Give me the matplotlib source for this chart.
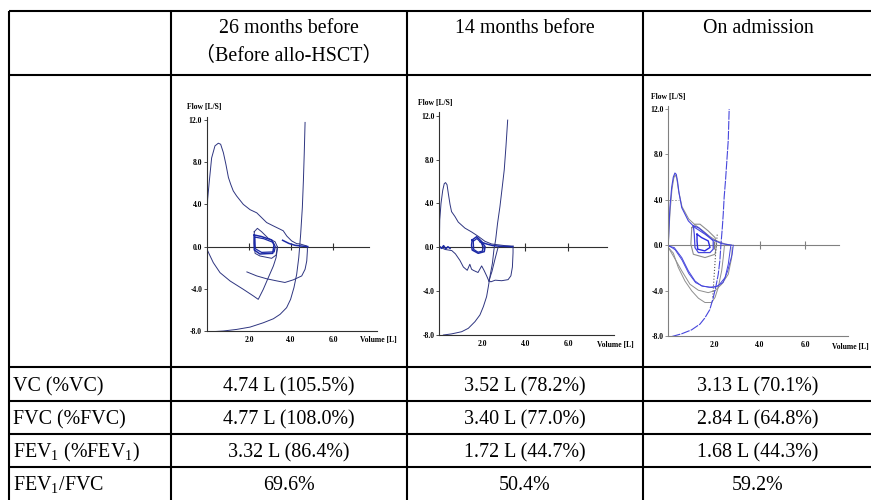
import matplotlib
matplotlib.use('Agg')
import matplotlib.pyplot as plt

plt.rcParams['font.family'] = ['Liberation Serif', 'Noto Sans CJK JP']
plt.rcParams['mathtext.fontset'] = 'custom'
plt.rcParams['mathtext.rm'] = 'Liberation Serif'
plt.rcParams['mathtext.it'] = 'Liberation Serif:italic'
plt.rcParams['mathtext.bf'] = 'Liberation Serif:bold'

# ---- table text ----
header_top = ['26 months before', '14 months before', 'On admission']
header_sub = ['（Before allo-HSCT）', '', '']
row_labels = ['VC (%VC)', 'FVC (%FVC)', r'FEV$_1$ (%FEV$_1$)', r'FEV$_1$/FVC']
vc_vals = ['4.74 L (105.5%)', '3.52 L (78.2%)', '3.13 L (70.1%)']
fvc_vals = ['4.77 L (108.0%)', '3.40 L (77.0%)', '2.84 L (64.8%)']
fev1_vals = ['3.32 L (86.4%)', '1.72 L (44.7%)', '1.68 L (44.3%)']
ratio_vals = ['69.6%', '50.4%', '59.2%']

y_ticks = [-8, -4, 0, 4, 8, 12]
x_ticks = [2, 4, 6]

# ---- panel 1: 26 months before ----
p1_exp_x = [0.0, 0.0, 0.03, 0.11, 0.22, 0.38, 0.54, 0.65, 0.78, 0.90, 1.02, 1.13, 1.25, 1.41,
            1.73, 2.05, 2.37, 2.84, 3.16, 3.48, 3.63, 3.80, 4.03, 4.27, 4.43, 4.75]
p1_exp_y = [0.0, 2.4, 4.5, 6.2, 8.4, 9.55, 9.8, 9.7, 8.9, 7.8, 6.55, 5.9, 5.28, 4.8,
            4.0, 3.5, 3.2, 2.28, 1.96, 1.65, 1.5, 1.0, 0.54, 0.28, 0.25, 0.06]
p1_insp_a_x = [0.0, 0.11, 0.30, 0.62, 1.10, 1.73, 2.21, 2.44, 2.68, 2.92, 3.16, 3.29, 3.35, 3.35]
p1_insp_a_y = [-0.25, -0.73, -1.52, -2.47, -3.26, -4.05, -4.68, -5.0, -4.05, -2.94, -1.84, -1.04, -0.25, 0.0]
p1_insp_b_x = [1.90, 2.37, 2.84, 3.32, 3.71, 4.11, 4.51, 4.67, 4.75, 4.78, 4.78]
p1_insp_b_y = [-2.40, -2.78, -3.05, -3.25, -3.40, -3.15, -2.78, -2.15, -1.36, -0.41, 0.0]
p1_steep_x = [0.22, 0.78, 1.41, 2.05, 2.68, 3.16, 3.48, 3.79, 3.98, 4.14, 4.27, 4.37, 4.46,
              4.54, 4.59, 4.63, 4.67]
p1_steep_y = [-8.07, -8.0, -7.85, -7.63, -7.22, -6.84, -6.42, -5.79, -5.0, -3.89, -2.63, -1.04, 1.17,
              3.7, 6.23, 8.77, 11.77]
p1_tid_a_x = [2.25, 2.40, 2.60, 2.92, 3.24, 3.35, 3.29, 3.08, 2.52, 2.29, 2.24, 2.25]
p1_tid_a_y = [1.41, 1.73, 1.41, 0.78, 0.46, -0.01, -0.80, -1.11, -0.89, -0.64, 0.31, 1.41]
p1_tid_b_x = [2.25, 2.60, 3.08, 3.19, 3.13, 2.52, 2.25, 2.25]
p1_tid_b_y = [1.10, 0.95, 0.63, 0.15, -0.64, -0.70, -0.32, 1.10]
p1_tid_c_x = [2.28, 2.70, 3.15, 3.25, 3.20, 2.60, 2.30, 2.28]
p1_tid_c_y = [0.90, 0.75, 0.40, 0.0, -0.50, -0.55, -0.20, 0.90]
p1_end_x = [3.60, 3.90, 4.20, 4.50, 4.80]
p1_end_y = [0.60, 0.30, 0.12, 0.05, 0.0]

# ---- panel 2: 14 months before ----
p2_exp_x = [0.0, 0.02, 0.08, 0.16, 0.23, 0.29, 0.36, 0.42, 0.50, 0.57, 0.73, 0.88, 1.19, 1.50,
            1.81, 2.12, 2.43, 3.05, 3.44]
p2_exp_y = [0.0, 2.5, 4.0, 5.2, 5.8, 5.9, 5.7, 4.9, 3.9, 3.25, 2.8, 2.3, 1.75, 1.4,
            1.0, 0.55, 0.3, 0.15, 0.1]
p2_insp_x = [0.0, 0.27, 0.58, 0.75, 0.96, 1.12, 1.30, 1.42, 1.50, 1.58, 1.80, 1.97, 2.08, 2.20,
             2.30, 2.40, 2.60, 2.90, 3.20, 3.33, 3.40, 3.43, 3.43]
p2_insp_y = [0.05, -0.2, -0.3, -0.6, -1.2, -1.8, -2.1, -1.55, -2.0, -2.1, -2.3, -1.7, -2.1, -2.6,
             -3.05, -3.15, -3.0, -3.05, -2.95, -2.6, -1.8, -0.5, 0.1]
p2_insp_b_x = [2.30, 2.45, 2.60, 2.72, 2.78]
p2_insp_b_y = [-3.10, -2.20, -1.0, -0.10, 0.10]
p2_steep_x = [0.19, 0.57, 1.04, 1.35, 1.66, 1.89, 2.05, 2.20, 2.28, 2.37, 2.47, 2.54, 2.62,
              2.71, 2.82, 2.93, 3.02, 3.10, 3.18]
p2_steep_y = [-8.0, -7.9, -7.7, -7.39, -6.78, -6.17, -5.41, -4.5, -3.6, -2.52, -1.46, -0.24, 0.67,
              2.19, 3.7, 5.53, 7.05, 9.18, 11.6]
p2_tid_a_x = [1.53, 1.74, 1.97, 2.13, 2.09, 1.81, 1.53, 1.50, 1.53]
p2_tid_a_y = [0.67, 0.97, 0.52, 0.05, -0.40, -0.55, -0.25, 0.20, 0.67]
p2_tid_b_x = [1.58, 1.75, 1.95, 2.05, 2.00, 1.80, 1.60, 1.58]
p2_tid_b_y = [0.55, 0.80, 0.40, 0.0, -0.35, -0.45, -0.20, 0.55]
p2_start_x = [0.0, 0.10, 0.20, 0.30, 0.40, 0.50]
p2_start_y = [0.10, -0.10, 0.15, -0.15, 0.05, -0.10]
p2_end_x = [1.90, 2.20, 2.50, 2.80, 3.10, 3.40]
p2_end_y = [0.50, 0.30, 0.15, 0.10, 0.08, 0.05]

# ---- panel 3: on admission ----
p3_exp_blue_x = [0.0, 0.03, 0.07, 0.15, 0.22, 0.29, 0.35, 0.41, 0.47, 0.59, 0.88, 1.17, 1.61,
                 1.90, 2.34, 2.78]
p3_exp_blue_y = [0.0, 1.57, 3.34, 5.12, 6.0, 6.36, 6.24, 5.56, 4.6, 3.31, 2.14, 1.55, 0.97,
                 0.53, 0.14, 0.0]
p3_exp_gray_x = [0.0, 0.03, 0.08, 0.16, 0.24, 0.30, 0.37, 0.45, 0.60, 0.90, 1.20, 1.50, 1.80,
                 2.10, 2.50, 2.80]
p3_exp_gray_y = [0.0, 1.3, 3.0, 4.9, 5.9, 6.2, 5.9, 4.8, 3.4, 2.3, 1.75, 1.3, 0.8,
                 0.4, 0.1, 0.0]
p3_insp_blue_a_x = [0.0, 0.26, 0.59, 0.88, 1.17, 1.46, 1.90, 2.19, 2.49, 2.63, 2.71, 2.74]
p3_insp_blue_a_y = [-0.08, -0.21, -1.09, -2.26, -3.15, -3.59, -3.73, -3.59, -2.85, -1.67, -0.50, -0.06]
p3_insp_blue_b_x = [0.0, 0.30, 0.60, 0.90, 1.20, 1.50, 1.80, 2.10, 2.40, 2.60, 2.80, 2.85]
p3_insp_blue_b_y = [0.0, -0.40, -1.30, -2.50, -3.30, -3.60, -3.70, -3.65, -3.30, -2.30, -0.80, 0.0]
p3_insp_gray_a_x = [0.0, 0.22, 0.44, 0.73, 1.03, 1.32, 1.61, 1.90, 2.05, 2.19, 2.34, 2.41, 2.46]
p3_insp_gray_a_y = [-0.20, -0.70, -1.97, -3.15, -4.03, -4.67, -5.05, -5.05, -4.60, -3.73, -2.26, -1.09, -0.06]
p3_insp_gray_b_x = [0.0, 0.26, 0.59, 0.95, 1.32, 1.75, 2.05, 2.34, 2.63, 2.78, 2.80]
p3_insp_gray_b_y = [-0.20, -1.09, -2.26, -3.44, -3.97, -4.18, -4.00, -3.44, -2.56, -1.09, -0.20]
p3_steep_x = [0.15, 0.58, 1.02, 1.39, 1.60, 1.82, 1.97, 2.09, 2.19, 2.26, 2.31, 2.37, 2.41,
              2.45, 2.51, 2.57, 2.63, 2.67]
p3_steep_y = [-8.05, -7.81, -7.46, -6.95, -6.42, -5.68, -4.64, -3.61, -2.57, -1.39, 0.09, 1.57, 2.75,
              4.23, 5.71, 7.49, 9.26, 12.0]
p3_dot_x = [1.95, 2.00, 2.05, 2.10, 2.15]
p3_dot_y = [-4.6, -3.0, -1.5, 0.0, 1.0]
p3_tid_blue_a_x = [1.10, 1.32, 1.75, 1.97, 1.97, 1.83, 1.32, 1.17, 1.14, 1.10]
p3_tid_blue_a_y = [1.70, 1.55, 0.82, 0.38, -0.35, -0.65, -0.65, -0.21, 0.97, 1.70]
p3_tid_blue_b_x = [1.26, 1.46, 1.75, 1.83, 1.60, 1.29, 1.26, 1.26]
p3_tid_blue_b_y = [0.97, 0.67, 0.38, -0.20, -0.50, -0.35, 0.38, 0.97]
p3_tid_gray_x = [1.03, 1.17, 1.39, 1.75, 2.05, 2.12, 2.05, 1.61, 1.10, 0.99, 1.03]
p3_tid_gray_y = [1.55, 1.85, 1.85, 1.26, 0.67, 0.09, -0.80, -1.09, -0.80, 0.09, 1.55]

W, H = 871, 500
navy = '#2e3580'
loop_blue = '#1c2aa6'
p3_blue = '#4646dc'
p3_gray = '#8e8e8e'

fig = plt.figure(figsize=(W / 100, H / 100), dpi=100)
bg = fig.add_axes([0, 0, 1, 1])
bg.set_xlim(0, W)
bg.set_ylim(H, 0)
bg.axis('off')

# table grid
col_lines = [9, 171, 407, 643]
row_lines = [11, 75, 367, 401, 434, 467]
for x in col_lines:
    bg.plot([x, x], [11, H + 2], color='black', lw=1.5, solid_capstyle='butt')
for y in row_lines:
    bg.plot([9, W + 2], [y, y], color='black', lw=1.5, solid_capstyle='butt')

col_centers = [289, 525, 758]
for cx, top, sub in zip(col_centers, header_top, header_sub):
    bg.text(cx, 33, top, ha='center', va='baseline', fontsize=14.4)
    if sub:
        bg.text(cx, 61, sub, ha='center', va='baseline', fontsize=14.4)

row_vals = [vc_vals, fvc_vals, fev1_vals, ratio_vals]
row_base = [391, 424, 457, 490]
for yb, lab, vals in zip(row_base, row_labels, row_vals):
    bg.text(13, yb, lab, ha='left', va='baseline', fontsize=14.4)
    for cx, v in zip(col_centers, vals):
        bg.text(cx, yb, v, ha='center', va='baseline', fontsize=14.4)


def add_panel(x0, y12, ym8, ppu, xmax, zmax, axis_color):
    ppy = (ym8 - y12) / 20.0
    ytop = 12.3
    ax = fig.add_axes([x0 / W, (H - ym8) / H, xmax * ppu / W, (ytop + 8) * ppy / H])
    ax.set_facecolor('none')
    ax.set_xlim(0, xmax)
    ax.set_ylim(-8, ytop)
    for s in ['top', 'right']:
        ax.spines[s].set_visible(False)
    for s in ['left', 'bottom']:
        ax.spines[s].set_color(axis_color)
        ax.spines[s].set_linewidth(0.8)
    ax.set_yticks(y_ticks)
    ax.set_yticklabels(['%.1f' % v for v in y_ticks])
    ax.set_xticks(x_ticks)
    ax.set_xticklabels(['%.1f' % v for v in x_ticks])
    ax.tick_params(axis='y', length=2, width=0.6, color=axis_color, pad=1.5)
    ax.tick_params(axis='x', length=0, pad=3.5)
    for lab in ax.get_xticklabels() + ax.get_yticklabels():
        lab.set_fontsize(5.5)
        lab.set_fontweight('bold')
    ax.plot([0, zmax], [0, 0], color=axis_color, lw=0.8)
    ax.vlines(x_ticks, -0.35, 0.35, color=axis_color, lw=0.8)
    return ax


ax1 = add_panel(207, 120, 331, 21.0, 8.08, 7.71, '#303030')
ax1.plot(p1_exp_x, p1_exp_y, color=navy, lw=0.7)
ax1.plot(p1_insp_a_x, p1_insp_a_y, color=navy, lw=0.7)
ax1.plot(p1_insp_b_x, p1_insp_b_y, color=navy, lw=0.7)
ax1.plot(p1_steep_x, p1_steep_y, color=navy, lw=0.7)
ax1.plot(p1_tid_a_x, p1_tid_a_y, color=navy, lw=0.7)
ax1.plot(p1_tid_b_x, p1_tid_b_y, color=loop_blue, lw=1.1)
ax1.plot(p1_tid_c_x, p1_tid_c_y, color=loop_blue, lw=0.9)
ax1.plot(p1_end_x, p1_end_y, color=loop_blue, lw=1.1)

ax2 = add_panel(439.3, 115.7, 335, 21.5, 8.14, 7.8, '#303030')
ax2.plot(p2_exp_x, p2_exp_y, color=navy, lw=0.7)
ax2.plot(p2_insp_x, p2_insp_y, color=navy, lw=0.7)
ax2.plot(p2_insp_b_x, p2_insp_b_y, color=navy, lw=0.7)
ax2.plot(p2_steep_x, p2_steep_y, color=navy, lw=0.7)
ax2.plot(p2_tid_a_x, p2_tid_a_y, color=loop_blue, lw=1.1)
ax2.plot(p2_tid_b_x, p2_tid_b_y, color=loop_blue, lw=0.9)
ax2.plot(p2_start_x, p2_start_y, color=loop_blue, lw=1.1)
ax2.plot(p2_end_x, p2_end_y, color=loop_blue, lw=1.1)

ax3 = add_panel(668.3, 109, 336, 22.8, 7.9, 7.5, '#808080')
ax3.plot([0, 0.45], [4, 4], color=p3_gray, lw=0.6, ls=(0, (2, 2)))
ax3.plot(p3_exp_gray_x, p3_exp_gray_y, color=p3_gray, lw=0.7)
ax3.plot(p3_insp_gray_a_x, p3_insp_gray_a_y, color=p3_gray, lw=0.7)
ax3.plot(p3_insp_gray_b_x, p3_insp_gray_b_y, color=p3_gray, lw=0.7)
ax3.plot(p3_tid_gray_x, p3_tid_gray_y, color=p3_gray, lw=0.8)
ax3.plot(p3_dot_x, p3_dot_y, color='#555555', lw=0.8, ls=':')
ax3.plot(p3_exp_blue_x, p3_exp_blue_y, color=p3_blue, lw=0.8)
ax3.plot(p3_insp_blue_a_x, p3_insp_blue_a_y, color=p3_blue, lw=0.7)
ax3.plot(p3_insp_blue_b_x, p3_insp_blue_b_y, color=p3_blue, lw=0.7)
ax3.plot(p3_steep_x, p3_steep_y, color=p3_blue, lw=0.8, ls=(0, (8, 1)))
ax3.plot(p3_tid_blue_a_x, p3_tid_blue_a_y, color=p3_blue, lw=0.9)
ax3.plot(p3_tid_blue_b_x, p3_tid_blue_b_y, color='#2a2ae0', lw=1.0)

# axis captions
for fx, fy, vx, vy in [(204, 107, 378, 340), (435, 103, 615, 345), (668, 97, 850, 347)]:
    bg.text(fx, fy, 'Flow [L/S]', ha='center', va='center', fontsize=5.5, fontweight='bold')
    bg.text(vx, vy, 'Volume [L]', ha='center', va='center', fontsize=5.5, fontweight='bold')

fig.savefig('out.png', dpi=100)
